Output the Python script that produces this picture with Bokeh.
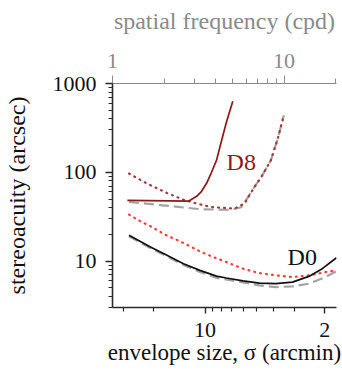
from bokeh.plotting import figure
from bokeh.models import (Range1d, LogScale, LogAxis, FixedTicker, Label,
                          CustomJSTickFormatter)
from bokeh.embed import file_html
from bokeh.resources import INLINE

# ---------------- data (envelope size sigma in arcmin, stereoacuity in arcsec) -------------
d8_solid_sigma = [28.4, 12.5, 11.2, 10.48, 9.8, 9.17, 8.58, 8.03, 7.51, 6.89]
d8_solid_val = [48.3, 47.3, 53.6, 61.1, 75.2, 100, 136, 224, 366, 631]

d8_dash_sigma = [27.8, 17.8, 10.48, 7.03, 6.15, 5.63, 5.17, 4.71, 4.13, 3.76, 3.47]
d8_dash_val = [46.3, 42.5, 38.3, 37.8, 40.4, 52.3, 67.7, 87.8, 136.5, 242, 439]

d8_dot_sigma = [27.8, 21.8, 16.7, 13.4, 11.2, 9.17, 6.75, 5.89, 5.17, 4.71, 4.13, 3.76, 3.47]
d8_dot_val = [96.7, 74.6, 58.4, 49.2, 44.4, 40.6, 39.0, 44.4, 67.7, 87.8, 136.5, 242, 439]

d0_solid_sigma = [27.8, 20.85, 16.7, 13.37, 10.72, 8.58, 7.51, 6.01, 4.82, 3.86, 3.09, 2.48, 2.07, 1.71]
d0_solid_val = [19.5, 14.4, 11.6, 9.35, 7.86, 6.77, 6.45, 5.98, 5.65, 5.56, 5.80, 6.72, 8.21, 10.9]

d0_dash_sigma = [27.8, 20.85, 16.7, 13.37, 10.72, 8.58, 6.01, 4.82, 3.86, 3.09, 2.48, 1.985, 1.71]
d0_dash_val = [19.0, 14.0, 11.3, 9.06, 7.55, 6.47, 5.75, 5.32, 5.09, 5.19, 5.56, 6.60, 7.71]

d0_dot_sigma = [27.8, 23.8, 20.4, 17.1, 14.4, 12.34, 10.48, 8.97, 7.51, 6.01, 4.82, 3.86, 3.09, 2.48, 1.985, 1.74]
d0_dot_val = [33.4, 28.0, 24.2, 19.8, 17.1, 14.8, 12.6, 11.1, 9.74, 8.21, 7.32, 6.90, 6.60, 6.90, 7.51, 7.86]

y_ticks = [10, 100, 1000]
sigma_ticks = [10, 2]
sigma_minor = [30, 20, 9, 8, 7, 6, 5, 4, 3]
sf_ticks = [1, 10]
sf_minor = [2, 3, 4, 5, 6, 7, 8, 9, 20]

FONT = "'Liberation Serif', 'Times New Roman', serif"
AX = "#2a2a2a"
GRAY = "#8a8a8a"

p = figure(width=342, height=371, x_axis_type="log", y_axis_type="log",
           x_range=Range1d(34.7, 1.71), y_range=Range1d(3, 1000),
           output_backend="svg", toolbar_location=None,
           min_border_left=110, min_border_right=6, min_border_top=83,
           min_border_bottom=64)
p.outline_line_color = None
p.grid.visible = False
p.background_fill_color = "white"
p.border_fill_color = "white"

fmt = CustomJSTickFormatter(code="return String(tick)")

# left axis
ya = p.yaxis[0]
ya.ticker = FixedTicker(ticks=y_ticks,
                        minor_ticks=[3, 4, 5, 6, 7, 8, 9, 20, 30, 40, 50, 60, 70, 80, 90,
                                     200, 300, 400, 500, 600, 700, 800, 900])
ya.formatter = fmt
ya.axis_label = "stereoacuity (arcsec)"

# bottom axis
xa = p.xaxis[0]
xa.ticker = FixedTicker(ticks=sigma_ticks, minor_ticks=sigma_minor)
xa.formatter = fmt
xa.axis_label = "envelope size, σ (arcmin)"

for ax in (ya, xa):
    ax.axis_line_color = AX
    ax.axis_line_width = 1.6
    ax.major_tick_line_color = AX
    ax.minor_tick_line_color = AX
    ax.major_tick_line_width = 1.4
    ax.minor_tick_line_width = 1.2
    ax.major_tick_in = 0
    ax.minor_tick_in = 0
    ax.major_label_text_font = FONT
    ax.major_label_text_font_size = "22px"
    ax.major_label_text_color = "#111111"
    ax.axis_label_text_font = FONT
    ax.axis_label_text_font_style = "normal"
    ax.axis_label_text_color = "#111111"

ya.axis_label_text_font_size = "24px"
xa.axis_label_text_font_size = "23px"
ya.major_tick_out = 7
ya.minor_tick_out = 4
ya.major_label_standoff = 9
ya.axis_label_standoff = 20
xa.major_tick_out = 6
xa.minor_tick_out = 4
xa.major_label_standoff = 9
xa.axis_label_standoff = 0

# top axis (spatial frequency)
p.extra_x_ranges = {"sf": Range1d(1, 20.2)}
p.extra_x_scales = {"sf": LogScale()}
top = LogAxis(x_range_name="sf", axis_label="spatial frequency (cpd)",
              ticker=FixedTicker(ticks=sf_ticks, minor_ticks=sf_minor),
              formatter=fmt)
top.axis_line_color = GRAY
top.axis_line_width = 1.2
top.major_tick_line_color = GRAY
top.minor_tick_line_color = GRAY
top.major_tick_in = 0
top.minor_tick_in = 0
top.major_tick_out = 8
top.minor_tick_out = 5
top.major_label_text_font = FONT
top.major_label_text_font_size = "22px"
top.major_label_text_color = GRAY
top.major_label_standoff = 8
top.axis_label_text_font = FONT
top.axis_label_text_font_size = "24px"
top.axis_label_text_font_style = "normal"
top.axis_label_text_color = GRAY
top.axis_label_standoff = 17
p.add_layout(top, "above")

# curves: dashed first, dotted next, solid on top
p.line(d8_dash_sigma, d8_dash_val, line_color="#a3a3a3", line_width=2.2, line_dash="10 5")
p.line(d0_dash_sigma, d0_dash_val, line_color="#a3a3a3", line_width=2.2, line_dash="10 5")
p.line(d8_dot_sigma, d8_dot_val, line_color="#a23a3a", line_width=2.2, line_dash="1 5",
       line_cap="round")
p.line(d0_dot_sigma, d0_dot_val, line_color="#ff3d3d", line_width=2.2, line_dash="1 5",
       line_cap="round")
p.line(d8_solid_sigma, d8_solid_val, line_color="#8b1a1a", line_width=1.7)
p.line(d0_solid_sigma, d0_solid_val, line_color="#111111", line_width=1.7)

p.add_layout(Label(x=6.15, y=131, text="D8", text_align="center", text_baseline="middle",
                   text_font=FONT, text_font_size="24px", text_color="#8b1a1a"))
p.add_layout(Label(x=2.71, y=11.1, text="D0", text_align="center", text_baseline="middle",
                   text_font=FONT, text_font_size="24px", text_color="#111111"))

open("out.html", "w").write(file_html(p, INLINE))
